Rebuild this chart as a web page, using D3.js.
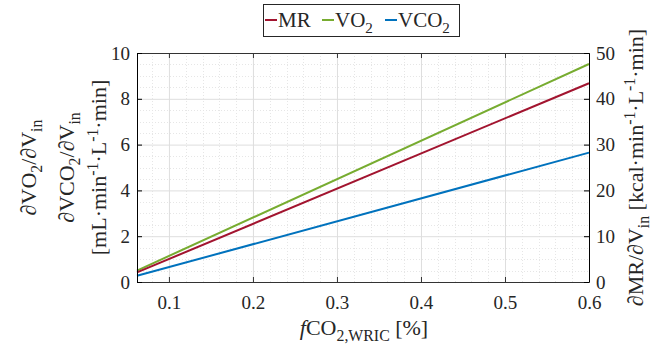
<!DOCTYPE html>
<html>
<head>
<meta charset="utf-8">
<script src="https://cdn.jsdelivr.net/npm/d3@7"></script>
<style>
  body { margin: 0; background: #fff; }
  text { font-family: "Liberation Serif", "Times New Roman", serif; fill: #262626; }
</style>
</head>
<body>
<div id="chart"></div>
<script>
// data (straight lines, end points)
const fco2 = [0.062, 0.6];
const vo2 = [0.5, 9.52];       // left axis
const vco2 = [0.27, 5.65];     // left axis
const mr = [2.1, 43.4];        // right axis, kcal
const xTicks = [0.1, 0.2, 0.3, 0.4, 0.5, 0.6];
const yLeftTicks = [0, 2, 4, 6, 8, 10];
const yRightTicks = [0, 10, 20, 30, 40, 50];

const W = 654, H = 348;
const margin = { top: 53, right: 65, bottom: 66, left: 137 };
const width = W - margin.left - margin.right;
const height = H - margin.top - margin.bottom;

const svg = d3.select('#chart').append('svg')
  .attr('width', W).attr('height', H);

const g = svg.append('g')
  .attr('transform', `translate(${margin.left},${margin.top})`);

const xScale = d3.scaleLinear().domain([0.062, 0.6]).range([0, width]);
const yLeft = d3.scaleLinear().domain([0, 10]).range([height, 0]);
const yRight = d3.scaleLinear().domain([0, 50]).range([height, 0]);

// minor grid (dotted)
const minorX = d3.range(0.08, 0.6, 0.02).filter(d => Math.abs(d * 10 - Math.round(d * 10)) > 1e-6);
const minorY = d3.range(0.5, 10, 0.5).filter(d => d % 2 !== 0);
g.selectAll('.x-minor').data(minorX).enter().append('line')
  .attr('x1', d => Math.round(xScale(d)) + 0.5).attr('x2', d => Math.round(xScale(d)) + 0.5)
  .attr('y1', 0).attr('y2', height)
  .attr('stroke', '#e6e6e6').attr('stroke-dasharray', '1,2');
g.selectAll('.y-minor').data(minorY).enter().append('line')
  .attr('y1', d => Math.round(yLeft(d)) + 0.5).attr('y2', d => Math.round(yLeft(d)) + 0.5)
  .attr('x1', 0).attr('x2', width)
  .attr('stroke', '#e6e6e6').attr('stroke-dasharray', '1,2');

// major grid
g.append('g')
  .attr('transform', `translate(0,${height})`)
  .call(d3.axisBottom(xScale).tickValues(xTicks).tickSize(-height).tickFormat(''))
  .call(a => a.select('.domain').remove())
  .call(a => a.selectAll('line').attr('stroke', '#dedede'));
g.append('g')
  .call(d3.axisLeft(yLeft).tickValues(yLeftTicks).tickSize(-width).tickFormat(''))
  .call(a => a.select('.domain').remove())
  .call(a => a.selectAll('line').attr('stroke', '#dedede'));

// lines
const line = (ys, yScale) => d3.line()
  .x((d, i) => xScale(fco2[i]))
  .y(d => yScale(d))(ys);

const series = [
  { name: 'VO2', vals: vo2, scale: yLeft, color: '#77AC30' },
  { name: 'VCO2', vals: vco2, scale: yLeft, color: '#0072BD' },
  { name: 'MR', vals: mr, scale: yRight, color: '#A2142F' }
];
series.forEach(s => {
  g.append('path')
    .attr('d', line(s.vals, s.scale))
    .attr('fill', 'none')
    .attr('stroke', s.color)
    .attr('stroke-width', 2);
});

// axes (ticks inward, full box)
const styleAxis = (a, color) => {
  a.selectAll('.domain').attr('stroke', color);
  a.selectAll('.tick line').attr('stroke', color);
  a.selectAll('.tick text').style('font-family', '"Liberation Serif", serif')
    .style('font-size', '19px').style('fill', '#262626');
};

g.append('g')
  .attr('transform', `translate(0,${height})`)
  .call(d3.axisBottom(xScale).tickValues(xTicks).tickSizeInner(-5).tickSizeOuter(0).tickPadding(14).tickFormat(d3.format('.1f')))
  .call(a => styleAxis(a, '#333'));
g.append('g')
  .call(d3.axisTop(xScale).tickValues(xTicks).tickSizeInner(-5).tickSizeOuter(0).tickFormat(''))
  .call(a => styleAxis(a, '#333'));
g.append('g')
  .call(d3.axisLeft(yLeft).tickValues(yLeftTicks).tickSizeInner(-5).tickSizeOuter(0).tickPadding(7))
  .call(a => styleAxis(a, '#000'));
g.append('g')
  .attr('transform', `translate(${width},0)`)
  .call(d3.axisRight(yRight).tickValues(yRightTicks).tickSizeInner(-5).tickSizeOuter(0).tickPadding(7))
  .call(a => styleAxis(a, '#000'));

// helper for rich text with sub/superscripts
function rich(sel, parts, size) {
  parts.forEach(p => {
    const t = sel.append('tspan').text(p.t);
    if (p.sub) t.attr('font-size', size * 0.72).attr('baseline-shift', '-38%');
    else if (p.sup) t.attr('font-size', size * 0.72).attr('baseline-shift', '50%');
    if (p.it) t.attr('font-style', 'italic');
  });
}

const fs = 22;
const cy = margin.top + height / 2;

// left y labels
const leftLines = [
  { x: 36, parts: [{ t: '∂VO' }, { t: '2', sub: true }, { t: '/∂V' }, { t: 'in', sub: true }] },
  { x: 74, parts: [{ t: '∂VCO' }, { t: '2', sub: true }, { t: '/∂V' }, { t: 'in', sub: true }] },
  { x: 106, parts: [{ t: '[mL·min' }, { t: '-1', sup: true }, { t: '·L' }, { t: '-1', sup: true }, { t: '·min]' }] }
];
leftLines.forEach(l => {
  const t = svg.append('text')
    .attr('transform', `translate(${l.x},${cy}) rotate(-90)`)
    .attr('text-anchor', 'middle')
    .attr('font-size', fs);
  rich(t, l.parts, fs);
});

// right y label
const rt = svg.append('text')
  .attr('transform', `translate(643,${cy}) rotate(-90)`)
  .attr('text-anchor', 'middle')
  .attr('font-size', fs);
rich(rt, [{ t: '∂MR/∂V' }, { t: 'in', sub: true }, { t: ' [kcal·min' }, { t: '-1', sup: true }, { t: '·L' }, { t: '-1', sup: true }, { t: '·min]' }], fs);

// x label
const xt = svg.append('text')
  .attr('x', 364).attr('y', 335)
  .attr('text-anchor', 'middle')
  .attr('font-size', fs);
rich(xt, [{ t: 'f', it: true }, { t: 'CO' }, { t: '2,WRIC', sub: true }, { t: ' [%]' }], fs);

// legend
const legend = svg.append('g');
legend.append('rect')
  .attr('x', 263.5).attr('y', 4.5).attr('width', 196).attr('height', 32)
  .attr('fill', '#fff').attr('stroke', '#262626');
const legItems = [
  { name: [{ t: 'MR' }], color: '#A2142F', x: 265 },
  { name: [{ t: 'VO' }, { t: '2', sub: true }], color: '#77AC30', x: 322 },
  { name: [{ t: 'VCO' }, { t: '2', sub: true }], color: '#0072BD', x: 385 }
];
legItems.forEach(it => {
  legend.append('line')
    .attr('x1', it.x).attr('x2', it.x + 12)
    .attr('y1', 20).attr('y2', 20)
    .attr('stroke', it.color).attr('stroke-width', 2);
  const t = legend.append('text')
    .attr('x', it.x + 13).attr('y', 27)
    .attr('font-size', 21);
  rich(t, it.name, 21);
});
</script>
</body>
</html>
